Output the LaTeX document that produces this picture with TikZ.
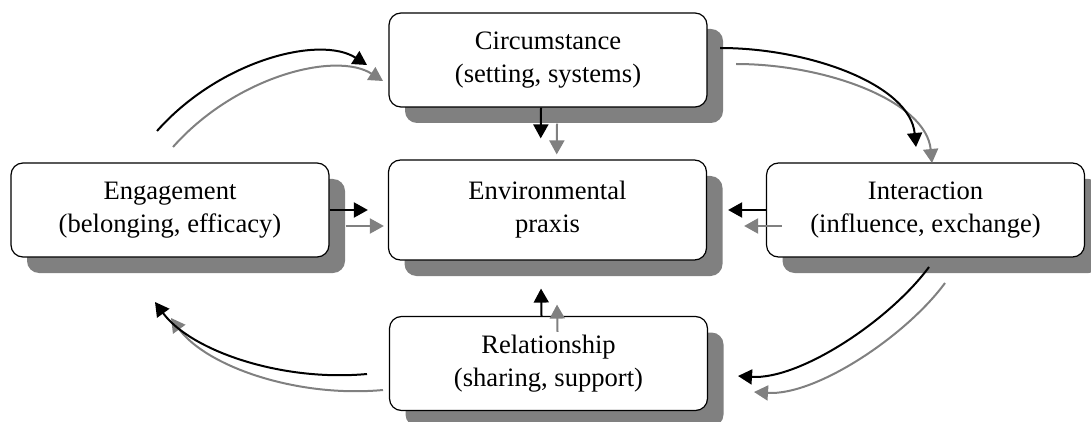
\documentclass[tikz,border=0pt]{standalone}
\usepackage{fontspec}
\setmainfont{Liberation Serif}
\usetikzlibrary{arrows.meta,shadows}
\definecolor{shade}{HTML}{808080}
\tikzset{
  box/.style={draw=black, line width=1.2pt, fill=white, rounded corners=12pt,
    minimum width=318pt, minimum height=94pt, inner sep=0pt, align=center,
    font=\fontsize{26.6}{33}\selectfont,
    drop shadow={shadow xshift=16pt, shadow yshift=-16pt, fill=shade, opacity=1}},
  flow/.style={line width=2pt, -{Triangle[length=14pt,width=15pt]}},
}
% all connectors, in the colour given
\newcommand\drawflows[1]{%
  \begin{scope}[flow, draw=#1, #1]
    \draw (tl-s) .. controls (220,60) and (320,35) .. (tl-e);
    \draw (tr-s) .. controls (810,48) and (910,85) .. (tr-e);
    \draw (br-s) .. controls (890,320) and (800,380) .. (br-e);
    \draw (bl-s) .. controls (280,382) and (190,350) .. (bl-e);
    \draw[shorten >=21pt] ([xshift=-7pt]circ.south) -- ([xshift=-7pt]prax.north);
    \draw[shorten >=20pt] (eng.east) -- (prax.west);
    \draw[shorten >=21pt] (int.west) -- (prax.east);
    \draw[shorten >=28pt] ([xshift=-7pt]rel.north) -- ([xshift=-7pt]prax.south);
  \end{scope}}
\begin{document}
\begin{tikzpicture}[x=1pt,y=-1pt]
\useasboundingbox (0,0) rectangle (1091,422);

\node[box] (circ) at (548,60) {Circumstance\\(setting, systems)};
\node[box, minimum height=100pt] (prax) at (547.5,210) {Environmental\\praxis};
\node[box] (eng) at (170,210) {Engagement\\(belonging, efficacy)};
\node[box] (int) at (925.5,210) {Interaction\\(influence, exchange)};
\node[box] (rel) at (548.5,363.5) {Relationship\\(sharing, support)};

% free ends of the curved connectors
\coordinate (tl-s) at (157,131);
\coordinate (tl-e) at (367,65);
\coordinate (tr-s) at (720,48);
\coordinate (tr-e) at (916,147);
\coordinate (br-s) at (929,267);
\coordinate (br-e) at (738,376);
\coordinate (bl-s) at (367,374);
\coordinate (bl-e) at (155,302);

% grey offset copy, then the black connectors on top
\begin{scope}[transform canvas={shift={(16pt,-16pt)}}]
  \drawflows{shade}
\end{scope}
\drawflows{black}
\end{tikzpicture}
\end{document}
